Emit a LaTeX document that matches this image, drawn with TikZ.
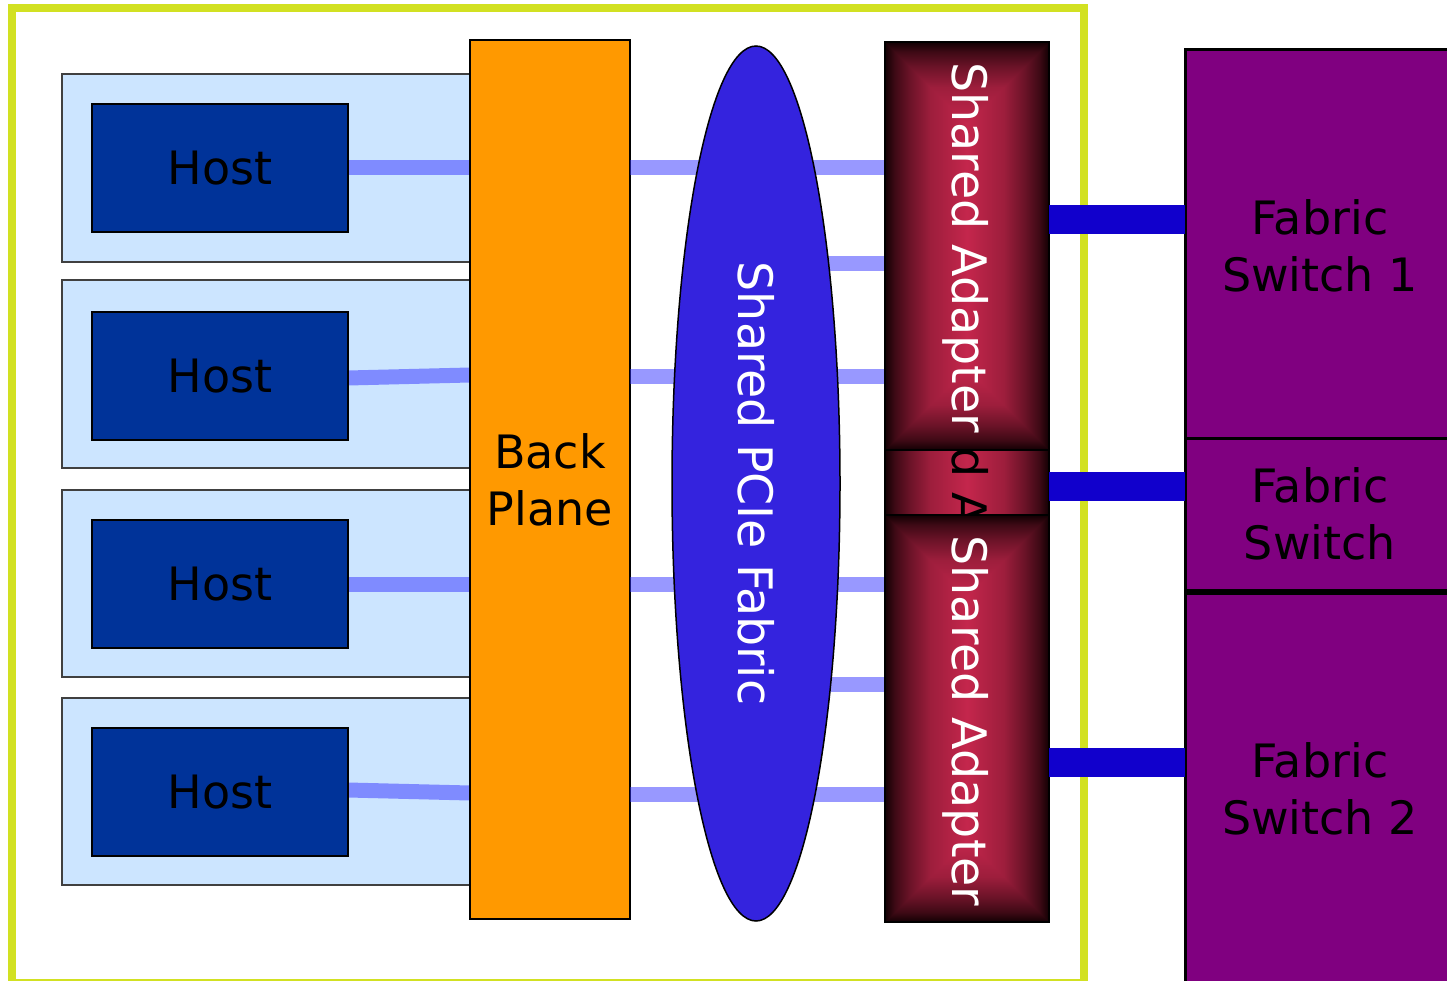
\documentclass[tikz,border=0pt]{standalone}
\usepackage{fontspec}
\setmainfont{DejaVu Sans}
\usetikzlibrary{shapes.geometric}
\definecolor{framec}{HTML}{D2E122}
\definecolor{hostbg}{HTML}{CCE5FF}
\definecolor{hostblue}{HTML}{003399}
\definecolor{bpc}{HTML}{FF9900}
\definecolor{pciec}{HTML}{3423DE}
\definecolor{linkc}{RGB}{51,51,255}
\definecolor{fabblue}{HTML}{1100CC}
\definecolor{swc}{HTML}{800080}
\definecolor{adk}{HTML}{120003}
\definecolor{acr}{HTML}{C4264C}
\pgfdeclarehorizontalshading{adh}{100bp}{color(0bp)=(adk); color(25bp)=(adk); color(28bp)=(acr!25!adk); color(32.5bp)=(acr!50!adk); color(38.75bp)=(acr!78!adk); color(50bp)=(acr); color(61.25bp)=(acr!78!adk); color(67.5bp)=(acr!50!adk); color(72bp)=(acr!25!adk); color(75bp)=(adk); color(100bp)=(adk)}
\pgfdeclareverticalshading{adtop}{100bp}{color(0bp)=(acr); color(25bp)=(acr); color(47.5bp)=(acr!78!adk); color(60bp)=(acr!50!adk); color(69bp)=(acr!25!adk); color(75bp)=(adk); color(100bp)=(adk)}
\pgfdeclareverticalshading{adbot}{100bp}{color(0bp)=(adk); color(25bp)=(adk); color(31bp)=(acr!25!adk); color(40bp)=(acr!50!adk); color(52.5bp)=(acr!78!adk); color(75bp)=(acr); color(100bp)=(acr)}
\newcommand\adapterband[1]{%
  \shade[shading=adh] (#1.south west) rectangle (#1.north east);
  \draw[black,line width=1.5pt] (#1.south west) rectangle (#1.north east);}
\newcommand\adaptershade[1]{%
  \shade[shading=adh] (#1.south west) rectangle (#1.north east);
  \shade[shading=adtop] (#1.north west) -- (#1.north east) -- ([yshift=-82pt]#1.north) -- cycle;
  \shade[shading=adbot] (#1.south west) -- (#1.south east) -- ([yshift=82pt]#1.south) -- cycle;
  \draw[black,line width=1.5pt] (#1.south west) rectangle (#1.north east);}
\tikzset{
  every node/.style={inner sep=0pt,outer sep=0pt},
  big/.style={font=\fontsize{46}{57}\selectfont},
  rot/.style={font=\fontsize{47.5}{57}\selectfont,rotate=-90},
  hostout/.style={draw=black!75,line width=1.5pt,fill=hostbg,minimum width=408pt,minimum height=188pt},
  hostin/.style={draw=black,line width=2.5pt,fill=hostblue,minimum width=256pt,minimum height=128pt,big,text=black},
  backplane/.style={draw=black,line width=2pt,fill=bpc,minimum width=160pt,minimum height=879pt,big,align=center},
  pcie/.style={ellipse,draw=black,line width=1.5pt,fill=pciec,minimum width=168pt,minimum height=875pt},
  adbox/.style={minimum width=164pt},
  link/.style={line width=15pt,draw=linkc,draw opacity=0.5},
  fab/.style={line width=29pt,draw=fabblue},
  switchbox/.style={draw=black,line width=3pt,fill=swc,minimum width=270pt,big,align=center,text=black}
}
\begin{document}
\begin{tikzpicture}[x=1pt,y=-1pt]
\useasboundingbox (0,0) rectangle (1447,981);
\clip (0,0) rectangle (1447,981);
\fill[white] (0,0) rectangle (1447,981);
% frame
\draw[framec,line width=8pt] (12,8) rectangle (1084,983);
% host outer boxes
\node[hostout] (o1) at (266,168) {};
\node[hostout] (o2) at (266,374) {};
\node[hostout,minimum height=187pt] (o3) at (266,583.5) {};
\node[hostout,minimum height=187pt] (o4) at (266,791.5) {};
% back plane anchor node
\path (550,479.5) node[minimum width=160pt,minimum height=879pt] (bpx) {};
% host inner boxes
\node[hostin] (h1) at (220,168) {};
\node[hostin] (h2) at (220,376) {};
\node[hostin] (h3) at (220,584) {};
\node[hostin] (h4) at (220,792) {};
% host links
\draw[link] (h1.east) -- (h1.east -| bpx.west);
\draw[link] ([yshift=-2pt]h2.east) -- ([yshift=1pt]h2.east -| bpx.west);
\draw[link] (h3.east) -- (h3.east -| bpx.west);
\draw[link] ([yshift=2pt]h4.east) -- ([yshift=-1pt]h4.east -| bpx.west);
\node[hostin] (h1b) at (h1) {Host};
\node[hostin] (h2b) at (h2) {Host};
\node[hostin] (h3b) at (h3) {Host};
\node[hostin] (h4b) at (h4) {Host};
% adapters (anchors)
\node[adbox,minimum height=408pt] (ad1) at (967,246) {};
\node[adbox,minimum height=65pt] (adm) at (967,482.5) {};
\node[adbox,minimum height=407pt] (ad2) at (967,718.5) {};
% back plane
\node[backplane] (bp) at (550,479.5) {Back\\Plane};
% links from back plane to adapters
\coordinate (m1) at (756,264);
\coordinate (m2) at (756,684);
\draw[link] (bp.east |- h1) -- (ad1.west |- h1);
\draw[link] (m1) -- (m1 -| ad1.west);
\draw[link] (bp.east |- h2) -- (ad1.west |- h2);
\draw[link] (bp.east |- h3) -- (ad2.west |- h3);
\draw[link] (m2) -- (m2 -| ad2.west);
\draw[link] ([yshift=-2pt]bp.east |- h4) -- ([yshift=-2pt]ad2.west |- h4);
% PCIe fabric
\node[pcie] (fab) at (756,483.5) {};
\node[rot,text=white] (fabt) at (fab.center) {Shared PCIe Fabric};
% shared adapters
\adapterband{adm}
\begin{scope}
\clip (adm.south west) rectangle (adm.north east);
\node[rot,text=black] (admt) at (966,496) {Shared Adapter};
\end{scope}
\adaptershade{ad1}
\adaptershade{ad2}
\node[rot,text=white] (ad1t) at (966,247.5) {Shared Adapter};
\node[rot,text=white] (ad2t) at (966,721) {Shared Adapter};
% fabric switches
\node[switchbox,minimum height=391pt] (sw1) at (1320,245.5) {Fabric\\Switch 1};
\node[switchbox,minimum height=152pt] (swm) at (1320,514) {Fabric\\Switch};
\node[switchbox,minimum height=392pt] (sw2) at (1320,789) {Fabric\\Switch 2};
% fabric links
\coordinate (f1) at (1117,220);
\coordinate (f2) at (1117,486);
\coordinate (f3) at (1117,762);
\draw[fab] (f1 -| ad1.east) -- (f1 -| sw1.west);
\draw[fab] (f2 -| adm.east) -- (f2 -| swm.west);
\draw[fab] (f3 -| ad2.east) -- (f3 -| sw2.west);
\end{tikzpicture}
\end{document}
